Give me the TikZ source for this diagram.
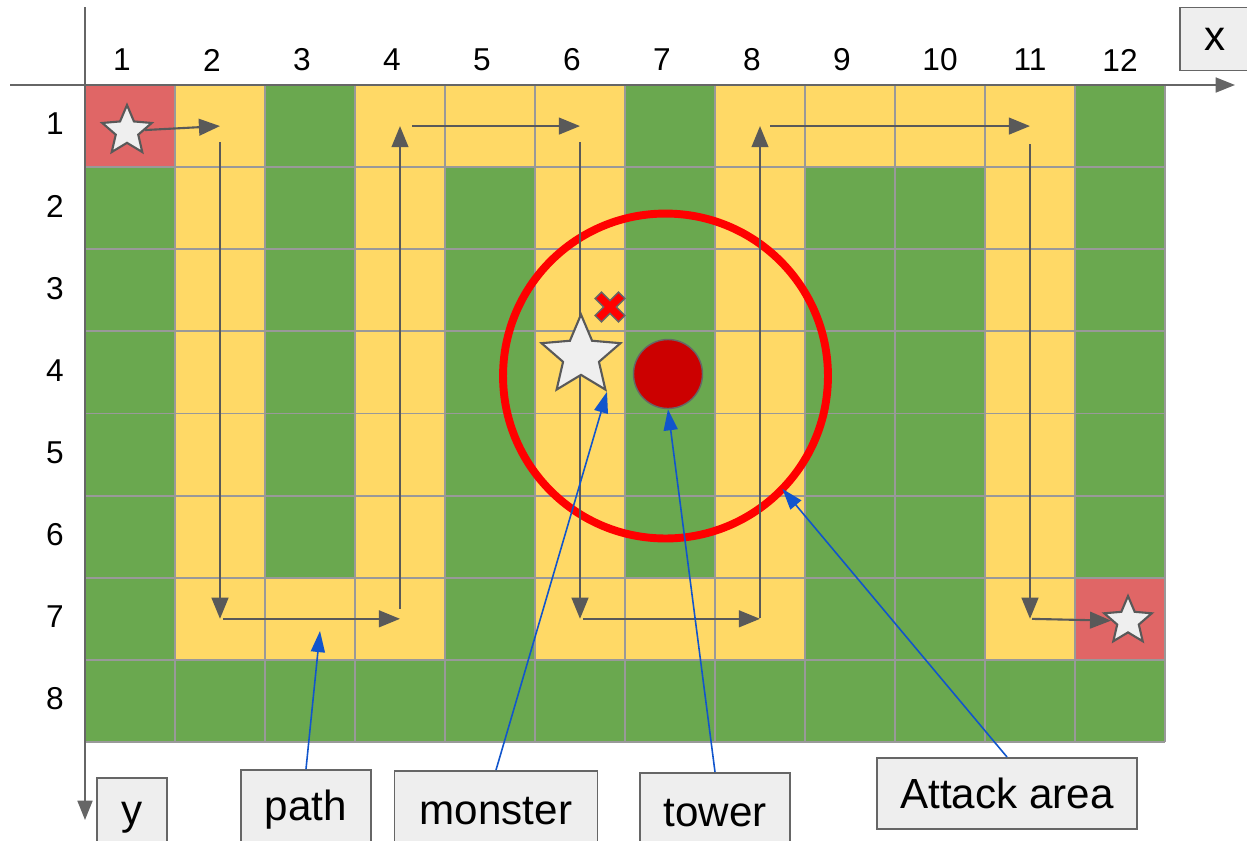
\documentclass[tikz,border=0pt]{standalone}
\usepackage{fontspec}
\setmainfont{Liberation Sans}
\usetikzlibrary{arrows.meta,shapes.geometric}
\definecolor{cellg}{RGB}{106,168,79}
\definecolor{celly}{RGB}{255,217,102}
\definecolor{cellr}{RGB}{224,102,102}
\definecolor{gridgray}{RGB}{153,153,153}
\definecolor{axisgray}{RGB}{102,102,102}
\definecolor{arrowgray}{RGB}{89,89,89}
\definecolor{starfill}{RGB}{239,239,239}
\definecolor{boxfill}{RGB}{238,238,238}
\definecolor{towerred}{RGB}{204,0,0}
\definecolor{ringred}{RGB}{255,0,0}
\definecolor{callblue}{RGB}{17,85,204}

\begin{document}
\begin{tikzpicture}[x=0.02cm,y=-0.02cm,
  gridline/.style={draw=gridgray,line width=1.1pt},
  axisline/.style={draw=axisgray,line width=1.1pt,-{Triangle[length=11pt,width=8.5pt]}},
  axlbl/.style={inner sep=0,font=\fontsize{18}{20}\selectfont},
  patharrow/.style={draw=arrowgray,line width=1.2pt,-{Triangle[length=12pt,width=9.5pt]}},
  starnode/.style={star,star points=5,star point ratio=2.2,draw=arrowgray,fill=starfill,line width=1.2pt,inner sep=0},
  lbl/.style={draw=axisgray,fill=boxfill,line width=1.1pt,inner sep=0,font=\fontsize{24}{28}\selectfont},
  callout/.style={draw=callblue,line width=0.9pt,-{Triangle[length=12pt,width=8pt]}}]
  % --- Dimensions (unite = 1 pixel) ---
  \def\xo{85}                           % bord gauche de la grille
  \def\yo{85}                           % bord haut de la grille
  \def\cw{90}                           % largeur d'une case
  \def\ch{82.125}                       % hauteur d'une case
  \clip (0,0) rectangle (1247,840);

  % --- Cases (r = depart/arrivee, y = chemin, g = herbe) ---
  \foreach \rr/\cells in {1/{r,y,g,y,y,y,g,y,y,y,y,g},
                          2/{g,y,g,y,g,y,g,y,g,g,y,g},
                          3/{g,y,g,y,g,y,g,y,g,g,y,g},
                          4/{g,y,g,y,g,y,g,y,g,g,y,g},
                          5/{g,y,g,y,g,y,g,y,g,g,y,g},
                          6/{g,y,g,y,g,y,g,y,g,g,y,g},
                          7/{g,y,y,y,g,y,y,y,g,g,y,r},
                          8/{g,g,g,g,g,g,g,g,g,g,g,g}}{%
    \foreach \cl [count=\cc] in \cells{%
      \fill[fill=cell\cl] ({\xo+(\cc-1)*\cw},{\yo+(\rr-1)*\ch}) rectangle ++(\cw,\ch);
      \coordinate (c-\cc-\rr) at ({\xo+(\cc-0.5)*\cw},{\yo+(\rr-0.5)*\ch});
    }
  }

  % --- Quadrillage ---
  \foreach \cc in {0,...,12}
    \draw[gridline] ({\xo+\cc*\cw},\yo) -- ++(0,{8*\ch});
  \foreach \rr in {0,...,8}
    \draw[gridline] (\xo,{\yo+\rr*\ch}) -- ++({12*\cw},0);

  % --- Axes et numeros ---
  \draw[axisline] (10,\yo) -- (1235,\yo);
  \draw[axisline] (\xo,7) -- (\xo,820);
  \foreach \cc in {1,...,12}
    \node[axlbl] (col\cc) at ({\xo+(\cc-0.5)*\cw-(\cc<10)*8},60) {\cc};
  \foreach \rr in {1,...,8}
    \node[axlbl] (row\rr) at (55,{\yo+(\rr-0.5)*\ch-2}) {\rr};

  % --- Zone d'attaque ---
  \node[circle,draw=ringred,line width=4.5pt,minimum size=6.5cm,inner sep=0,outer sep=0] (area) at (665.5,376) {};

  % --- Chemin du monstre ---
  \node[starnode,minimum size=1.04cm] (start) at (127,131) {};
  \node[starnode,minimum size=1.0cm] (goal) at (1128,621) {};
  \draw[patharrow] (start) -- (c-2-1);
  \foreach \a/\b/\g in {2-1/2-7/0.32cm, 2-7/4-7/0.06cm, 4-7/4-1/0.2cm,
                        4-1/6-1/0.24cm, 6-1/6-7/0.32cm, 6-7/8-7/0.06cm,
                        8-7/8-1/0.02cm, 8-1/11-1/0.2cm, 11-1/11-7/0.36cm}
    \draw[patharrow,shorten <=\g] (c-\a) -- (c-\b);
  \draw[patharrow,shorten <=0.04cm] (c-11-7) -- (goal);

  % --- Monstre, impact et tour ---
  \node[starnode,minimum size=1.66cm] (monster) at (581,356) {};
  \begin{scope}[shift={(610,307)},rotate=45]
    \filldraw[fill=ringred,draw=axisgray,line width=0.8pt]
      (4.5,16.5) -- (4.5,4.5) -- (16.5,4.5) -- (16.5,-4.5) -- (4.5,-4.5) -- (4.5,-16.5)
      -- (-4.5,-16.5) -- (-4.5,-4.5) -- (-16.5,-4.5) -- (-16.5,4.5) -- (-4.5,4.5) -- (-4.5,16.5) -- cycle;
  \end{scope}
  \node[circle,fill=towerred,draw=axisgray,line width=0.8pt,minimum size=1.38cm,inner sep=0] (tower) at (668,374) {};

  % --- Etiquettes ---
  \node[lbl,minimum width=1.4cm,minimum height=1.26cm] (xlbl) at (1215,39) {x};
  \node[lbl,anchor=north,minimum width=1.4cm,minimum height=1.6cm] (ylbl) at (132,777) {y};
  \node[lbl,anchor=north,minimum width=2.6cm,minimum height=1.6cm] (pathlbl) at (306,769) {path};
  \node[lbl,anchor=north,minimum width=4.06cm,minimum height=1.6cm] (monsterlbl) at (496,770) {monster};
  \node[lbl,anchor=north,minimum width=3.0cm,minimum height=1.6cm] (towerlbl) at (715,772) {tower};
  \node[lbl,anchor=north,minimum width=5.2cm,minimum height=1.42cm] (arealbl) at (1007,757) {Attack area};

  % --- Fleches des etiquettes ---
  \coordinate (pathpt) at (320,631);
  \draw[callout] (pathlbl.north) -- (pathpt);
  \draw[callout] (monsterlbl.north) -- (monster.outer point 4);
  \draw[callout] (towerlbl.north) -- (tower.south);
  \draw[callout] (arealbl.north) -- (area.-44);
\end{tikzpicture}
\end{document}
